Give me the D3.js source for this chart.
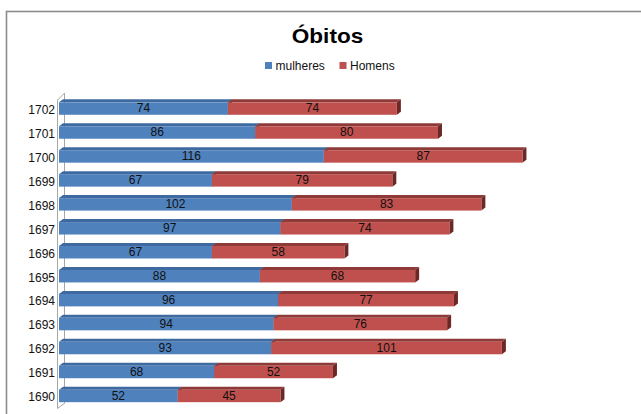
<!DOCTYPE html>
<html>
<head>
<meta charset="utf-8">
<script src="https://cdn.jsdelivr.net/npm/d3@7"></script>
<style>
  html, body { margin: 0; padding: 0; background: #fff; }
  svg { display: block; font-family: "Liberation Sans", Arial, sans-serif; }
</style>
</head>
<body>
<script>
const years = ["1702","1701","1700","1699","1698","1697","1696","1695","1694","1693","1692","1691","1690"];
const mulheres = [74, 86, 116, 67, 102, 97, 67, 88, 96, 94, 93, 68, 52];
const homens   = [74, 80, 87, 79, 83, 74, 58, 68, 77, 76, 101, 52, 45];
const seriesNames = ["mulheres", "Homens"];
const seriesColors = ["#4F81BD", "#C0504D"];
const topColors = ["#3E6AA0", "#8E3A38"];
const sideColors = ["#2F507A", "#6B2826"];
const titleText = "Óbitos";

const W = 641, H = 414;
const svg = d3.select("body").append("svg").attr("width", W).attr("height", H);

// outer frame
svg.append("rect").attr("x", 6.5).attr("y", 11.5).attr("width", 700).attr("height", 500)
  .attr("fill", "none").attr("stroke", "#8c8c8c").attr("stroke-width", 1.6);

const x = d3.scaleLinear().domain([0, 250]).range([59, 59 + 250 * 2.283]);
const y = d3.scaleBand().domain(years).range([96.1, 408.4]).paddingInner(0.48).paddingOuter(0.26);
const dx = 4, dy = 3;

// axis wall (3D)
const xa = x(0);
const y0 = y.range()[0], y1 = y.range()[1];
const axisG = svg.append("g").attr("stroke", "#a6a6a6").attr("fill", "none").attr("stroke-width", 1);
axisG.append("path").attr("d", `M${xa - 1.5},${y0 + 4}L${xa - 1.5},${y1}L${xa + 5.5},${y1 - 5}L${xa + 5.5},${y0 - 3}L${xa - 1.5},${y0 + 4}`);

// stacked data
const stack = years.map((yr, i) => {
  const a = mulheres[i], b = homens[i];
  return [
    { yr, s: 0, v0: 0, v1: a, v: a },
    { yr, s: 1, v0: a, v1: a + b, v: b }
  ];
});

const bh = y.bandwidth();
const barsG = svg.append("g");
stack.forEach(row => {
  row.forEach(d => {
    const xl = x(d.v0), xr = x(d.v1), yt = y(d.yr);
    const g = barsG.append("g");
    g.append("path").attr("d", `M${xl},${yt}L${xl + dx},${yt - dy}L${xr + dx},${yt - dy}L${xr},${yt}Z`)
      .attr("fill", topColors[d.s]);
    g.append("path").attr("d", `M${xr},${yt}L${xr + dx},${yt - dy}L${xr + dx},${yt + bh - dy}L${xr},${yt + bh}Z`)
      .attr("fill", sideColors[d.s]);
    g.append("rect").attr("x", xl).attr("y", yt).attr("width", xr - xl).attr("height", bh)
      .attr("fill", seriesColors[d.s]);
    g.append("text").attr("x", (xl + xr) / 2).attr("y", yt + bh / 2 - 0.5).attr("dy", "0.36em")
      .attr("text-anchor", "middle").attr("font-size", 12).attr("fill", "#111").text(d.v);
  });
});

// year labels
svg.append("g").selectAll("text").data(years).join("text")
  .attr("x", 55).attr("y", d => y(d) + bh / 2 + 1).attr("dy", "0.36em")
  .attr("text-anchor", "end").attr("font-size", 12).attr("fill", "#111").text(d => d);

// title
svg.append("text").attr("transform", "translate(327.5,43) scale(1.13,1)").attr("text-anchor", "middle")
  .attr("font-size", 20).attr("font-weight", "bold").attr("fill", "#000").text(titleText);

// legend
const legX = [265, 339.5];
const leg = svg.append("g");
seriesNames.forEach((n, i) => {
  leg.append("rect").attr("x", legX[i]).attr("y", 62).attr("width", 7).attr("height", 7).attr("fill", seriesColors[i]);
  leg.append("text").attr("x", legX[i] + 10.5).attr("y", 65.5).attr("dy", "0.36em").attr("font-size", 12)
    .attr("fill", "#111").text(n);
});
</script>
</body>
</html>
